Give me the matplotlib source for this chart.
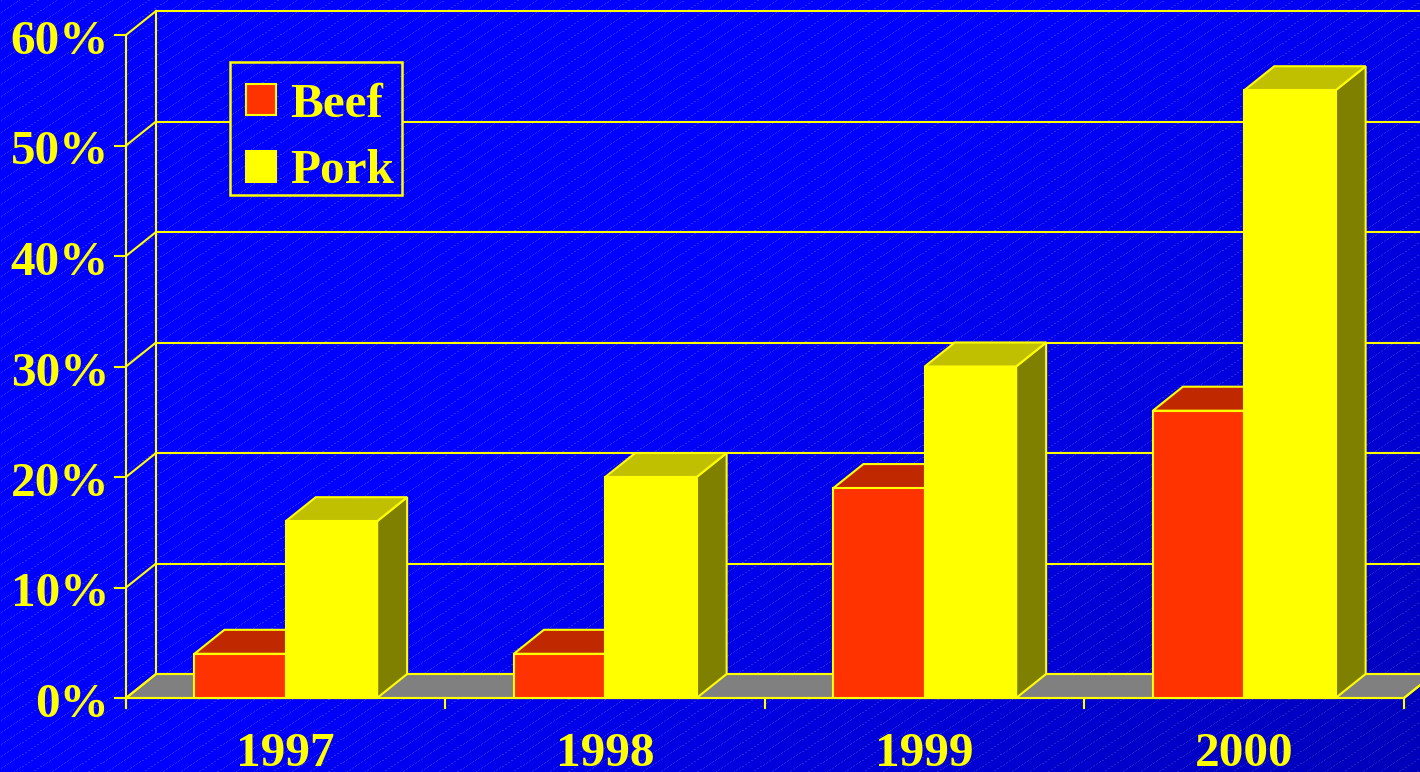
import numpy as np
import matplotlib
matplotlib.use("Agg")
import matplotlib.pyplot as plt
from matplotlib.patches import Polygon, Rectangle

# ---------------- data ----------------
years = ["1997", "1998", "1999", "2000"]
series = ["Beef", "Pork"]
beef = [4, 4, 19, 26]
pork = [16, 20, 30, 55]
yticks = [0, 10, 20, 30, 40, 50, 60]
ytick_labels = [f"{v}%" for v in yticks]

# ---------------- style ----------------
YEL = "#FFFF00"
front_cols = ["#FF3300", "#FFFF00"]
top_cols = ["#C02800", "#C0C000"]
side_cols = ["#8A1C00", "#808000"]
FLOOR = "#808080"
FONT = dict(family="Liberation Serif", weight="bold", color=YEL)
FS = 35.5

W, H = 1420, 772
fig = plt.figure(figsize=(W / 100, H / 100), dpi=100)
ax = fig.add_axes([0, 0, 1, 1])
ax.set_axis_off()

# pixel geometry -> data units
PX = 319.5          # px per category
PY = 11.05          # px per percent
X0, Y0 = 126, 698   # px of origin
DX = 30 / PX
DY = 24 / PY
xlim = (-X0 / PX, (W - X0) / PX)
ylim = ((Y0 - H) / PY, Y0 / PY)
ax.set_xlim(*xlim)
ax.set_ylim(*ylim)


def dx_px(p):
    return (p - X0) / PX


def dy_px(p):
    return (Y0 - p) / PY


# ---------------- background texture ----------------
yy, xx = np.mgrid[0:H, 0:W].astype(float)
t = 0.6 * xx / W + 0.4 * yy / H
s = np.clip((t - 0.45) / 0.55, 0, 1)
fac = 1 - 0.27 * s
tex = np.zeros((H, W, 3))
tex[..., 2] = fac
lines = (((yy + 0.65 * xx) % 12) < 1.0) & ((xx % 3) != 0)
light = np.stack([0.5 * fac, 0.5 * fac, fac], axis=-1)
tex[lines] = 0.65 * tex[lines] + 0.35 * light[lines]
ext = (xlim[0], xlim[1], ylim[0], ylim[1])
ax.imshow(tex, extent=ext, aspect="auto", interpolation="nearest", zorder=0)

LW = 1.5
ncat = len(years)
# floor
ax.add_patch(Polygon([(0, 0), (ncat, 0), (ncat + DX, DY), (DX, DY)],
                     closed=True, facecolor=FLOOR, edgecolor=YEL, lw=LW, zorder=1))
# gridlines on back wall + left wall diagonals
for v in yticks:
    ax.plot([DX, xlim[1] + 1], [v + DY, v + DY], color=YEL, lw=LW, zorder=1.2)
    ax.plot([0, DX], [v, v + DY], color=YEL, lw=LW, zorder=1.2)
    ax.plot([-11 / PX, 0], [v, v], color=YEL, lw=LW, zorder=1.2)
# back wall vertical
ax.plot([DX, DX], [DY, yticks[-1] + DY], color=YEL, lw=LW, zorder=1.2)
# front left axis
ax.plot([0, 0], [-10 / PY, yticks[-1]], color=YEL, lw=LW, zorder=1.2)
# front floor edge
ax.plot([-11 / PX, ncat], [0, 0], color=YEL, lw=LW, zorder=1.3)
ax.plot([ncat, ncat + DX], [0, DY], color=YEL, lw=LW, zorder=1.3)
# x ticks
for i in range(ncat + 1):
    ax.plot([i, i], [0, -10 / PY], color=YEL, lw=LW, zorder=1.3)

# ---------------- bars ----------------
BW = 0.286
OFF = 0.5 - BW
for i in range(ncat):
    for j, vals in enumerate([beef, pork]):
        v = vals[i]
        L = i + OFF + j * BW
        R = L + BW
        z = 3 + j * 0.1
        ax.add_patch(Polygon([(R, 0), (R + DX, DY), (R + DX, v + DY), (R, v)],
                             closed=True, facecolor=side_cols[j], edgecolor=YEL, lw=LW, zorder=z))
        ax.add_patch(Polygon([(L, v), (R, v), (R + DX, v + DY), (L + DX, v + DY)],
                             closed=True, facecolor=top_cols[j], edgecolor=YEL, lw=LW, zorder=z))
        ax.add_patch(Rectangle((L, 0), BW, v, facecolor=front_cols[j],
                               edgecolor=YEL, lw=LW, zorder=z))

# ---------------- labels ----------------
for v, lab in zip(yticks, ytick_labels):
    ax.text(dx_px(109), v - 19 / PY, lab, ha="right", va="baseline",
            fontsize=FS, zorder=6, **FONT)
for i, y in enumerate(years):
    ax.text(i + 0.5, dy_px(766), y, ha="center", va="baseline",
            fontsize=FS, zorder=6, **FONT)

# ---------------- legend (drawn by hand) ----------------
lx0, lx1, ly0, ly1 = 230, 401.7, 62.3, 195
frame = Rectangle((dx_px(lx0), dy_px(ly1)), (lx1 - lx0) / PX, (ly1 - ly0) / PY,
                  facecolor="none", edgecolor=YEL, lw=LW + 0.3, zorder=10)
ax.add_patch(frame)
clip = Rectangle((dx_px(lx0), dy_px(ly1)), (lx1 - lx0) / PX, (ly1 - ly0) / PY,
                 transform=ax.transData)
im2 = ax.imshow(tex, extent=ext, aspect="auto", interpolation="nearest", zorder=9)
im2.set_clip_path(clip)
row_top = [84.3, 150.5]
for j, name in enumerate(series):
    top = row_top[j]
    ax.add_patch(Rectangle((dx_px(246), dy_px(top + 31)), 30.5 / PX, 31 / PY,
                           facecolor=front_cols[j], edgecolor=YEL, lw=LW, zorder=11))
    ax.text(dx_px(290), dy_px(top + 32.5), name, ha="left", va="baseline",
            fontsize=FS, zorder=11, **FONT)

ax.set_xlim(*xlim)
ax.set_ylim(*ylim)

fig.savefig("out.png", dpi=100)
